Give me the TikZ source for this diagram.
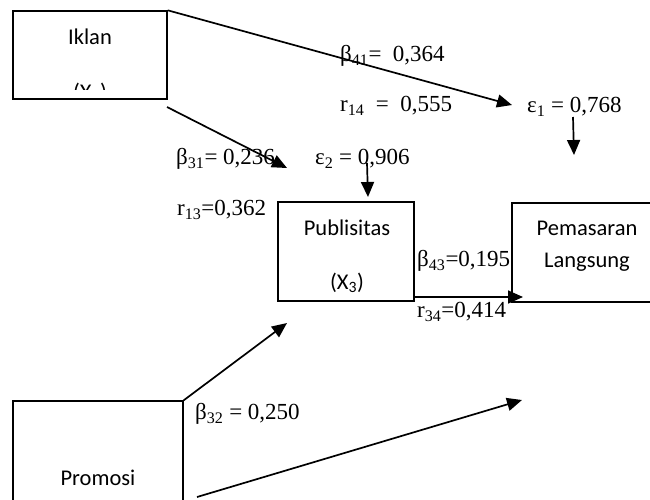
\documentclass[tikz,border=0pt]{standalone}
\usepackage{fontspec}
\setmainfont{Liberation Serif}
\newfontfamily\boxfont{Carlito}
\usetikzlibrary{arrows.meta}

\begin{document}
\begin{tikzpicture}[x=1pt, y=-1pt,
  varbox/.style={draw, line width=1.4pt, inner sep=0pt},
  boxtext/.style={font=\boxfont\fontsize{22.5}{27}\selectfont, inner sep=0pt},
  coef/.style={font=\fontsize{23}{27}\selectfont, inner sep=0pt, anchor=mid west},
  path/.style={line width=1.7pt, -{Triangle[length=15pt, width=13pt]}}]

  % page frame; also crops the boxes that run off the edge
  \clip (0,0) rectangle (650,499);

  % variable boxes
  \node[varbox, minimum width=154pt, minimum height=88pt]  (iklan)   at (90,55)    {};
  \node[varbox, minimum width=136pt, minimum height=99pt]  (publ)    at (346,251.5) {};
  \node[varbox, minimum width=148pt, minimum height=99pt]  (pemasar) at (586,252.5) {};
  \node[varbox, minimum width=170pt, minimum height=109pt] (promosi) at (98,455.5)  {};

  % box captions
  \node[boxtext] (tIklan) at (90,37) {Iklan};
  \begin{scope}
    \clip (13,11) rectangle (167,89);
    \node[boxtext] (tX1) at (90,93) {(X\textsubscript{1})};
  \end{scope}
  \node[boxtext] (tPubl) at (347,228) {Publisitas};
  \node[boxtext] (tX3)   at (347,283) {(X\textsubscript{3})};
  \node[boxtext] (tPem)  at (587,228) {Pemasaran};
  \node[boxtext] (tLang) at (587,262) {Langsung};
  \node[boxtext] (tProm) at (98,478)  {Promosi};

  % coefficient labels
  \node[coef] (b41) at (340,59)  {β\textsubscript{41}=~~0,364};
  \node[coef] (r14) at (340,109) {r\textsubscript{14}~~=~~0,555};
  \node[coef] (e1)  at (527,110) {ε\textsubscript{1} = 0,768};
  \node[coef] (b31) at (176,162) {β\textsubscript{31}= 0,236};
  \node[coef] (e2)  at (315,162) {ε\textsubscript{2} = 0,906};
  \node[coef] (r13) at (177,213) {r\textsubscript{13}=0,362};
  \node[coef] (b43) at (417,264) {β\textsubscript{43}=0,195};
  \node[coef] (r34) at (417,315) {r\textsubscript{34}=0,414};
  \node[coef] (b32) at (195,417) {β\textsubscript{32} = 0,250};

  % free ends of the paths
  \coordinate (k1) at (167,107);
  \coordinate (h41) at (512,105);
  \coordinate (h31) at (287,168);
  \coordinate (e2s) at (367,163);
  \coordinate (e2h) at (368,197);
  \coordinate (e1s) at (573,117);
  \coordinate (e1h) at (574,155);
  \coordinate (p3s) at (414,297);
  \coordinate (h43) at (523,297);
  \coordinate (h32) at (287,323);
  \coordinate (q1)  at (197,497);
  \coordinate (h42) at (522,400);

  % paths
  \draw[path] (iklan.north east) -- (h41);
  \draw[path] (k1) -- (h31);
  \draw[path] (e2s) -- (e2h);
  \draw[path] (e1s) -- (e1h);
  \draw[path] (p3s) -- (h43);
  \draw[path] (promosi.north east) -- (h32);
  \draw[path] (q1) -- (h42);
\end{tikzpicture}
\end{document}
